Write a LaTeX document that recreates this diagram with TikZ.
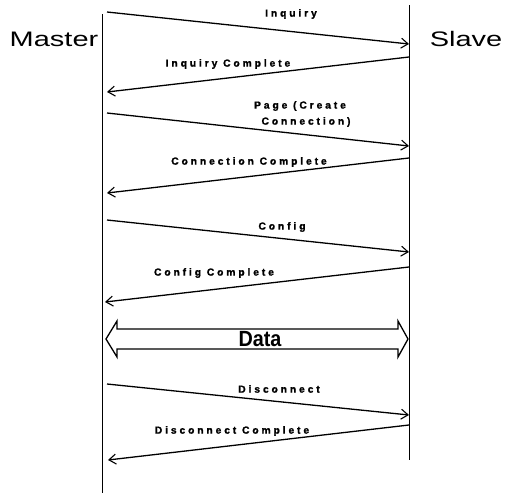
\documentclass[tikz,border=0pt]{standalone}
\usepackage{fontspec}
\setmainfont{Liberation Sans}
\newfontfamily\labfont[LetterSpace=28,BoldFeatures={FakeBold=1.2}]{Liberation Sans}
\usetikzlibrary{arrows.meta}
\begin{document}
\begin{tikzpicture}[x=1pt,y=-1pt,
  life/.style={line width=1pt},
  msg/.style={line width=1.3pt,-{Straight Barb[length=7pt,width=10pt,line width=1.1pt]}},
  lab/.style={font=\labfont\bfseries\fontsize{10.3}{12}\selectfont,inner sep=0pt,align=center},
  actor/.style={font=\fontsize{21}{24}\selectfont,inner sep=0pt,xscale=1.38}]
\useasboundingbox (0,0) rectangle (506,493);
\fill[white] (0,0) rectangle (506,493);
% lifelines
\coordinate (mtop) at (102,14);
\coordinate (mbot) at (102,493);
\coordinate (stop) at (409,5);
\coordinate (sbot) at (409,460);
\draw[life] (mtop) -- (mbot);
\draw[life] (stop) -- (sbot);
\node[actor] (master) at (54,39) {Master};
\node[actor] (slave) at (466,39) {Slave};
% messages
\coordinate (a1) at (107,12);  \coordinate (b1) at (409,44);
\coordinate (a2) at (409,57);  \coordinate (b2) at (107,92);
\coordinate (a3) at (107,113); \coordinate (b3) at (409,146);
\coordinate (a4) at (409,158); \coordinate (b4) at (107,193);
\coordinate (a5) at (107,220); \coordinate (b5) at (409,252);
\coordinate (a6) at (409,267); \coordinate (b6) at (105,302);
\coordinate (a8) at (107,384); \coordinate (b8) at (409,415);
\coordinate (a9) at (409,425); \coordinate (b9) at (108,460);
\draw[msg] (a1) -- (b1);
\draw[msg] (a2) -- (b2);
\draw[msg] (a3) -- (b3);
\draw[msg] (a4) -- (b4);
\draw[msg] (a5) -- (b5);
\draw[msg] (a6) -- (b6);
\draw[msg] (a8) -- (b8);
\draw[msg] (a9) -- (b9);
\node[lab] (l1) at (291,14) {Inquiry};
\node[lab] (l2) at (228,64) {Inquiry Complete};
\node[lab] (l3a) at (300,106) {Page (Create};
\node[lab] (l3b) at (306,122) {Connection)};
\node[lab] (l4) at (249,162) {Connection Complete};
\node[lab] (l5) at (282,227) {Config};
\node[lab] (l6) at (214,273) {Config Complete};
\node[lab] (l8) at (279,389) {Disconnect};
\node[lab] (l9) at (232,431) {Disconnect Complete};
% data double arrow
\draw[line width=1.3pt,line join=miter]
  (106,339) -- (117,321) -- (117,329) -- (398,329) -- (398,321) -- (408,339)
  -- (398,357) -- (398,349) -- (117,349) -- (117,357) -- cycle;
\node[font=\bfseries\fontsize{22}{24}\selectfont,inner sep=0pt,xscale=0.9] (data) at (260,339) {Data};
\end{tikzpicture}
\end{document}
